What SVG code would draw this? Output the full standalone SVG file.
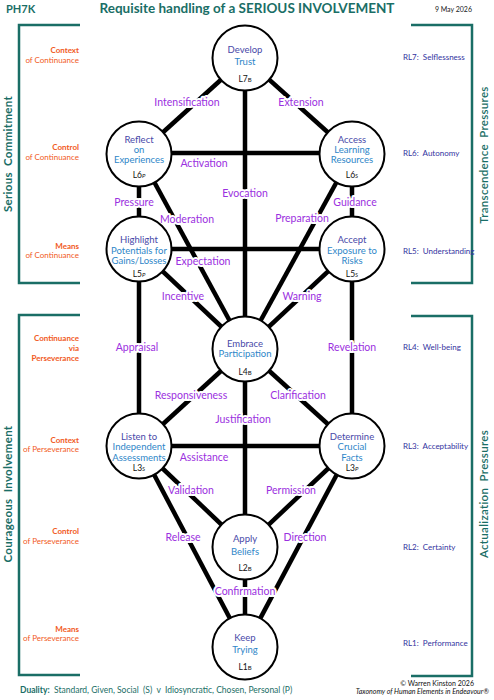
<svg xmlns="http://www.w3.org/2000/svg" width="494" height="700" viewBox="0 0 494 700">
<style>
text{font-family:Lato,"Liberation Sans",sans-serif}
.edge{stroke:#000;stroke-width:4.5;fill:none}
.frame{stroke:#1a6e66;stroke-width:2.5;fill:none}
.circ{fill:#fff;stroke:#000;stroke-width:2}
.lbl{font-size:10.5px;fill:#9b30e0;text-anchor:middle;stroke:#fff;stroke-width:4;stroke-linejoin:round;paint-order:stroke}
.nd{font-size:9.5px;fill:#4848a8;text-anchor:middle}
.nl{font-size:9.5px;fill:#2e86c8;text-anchor:middle}
.lv{font-size:8.5px;fill:#111;text-anchor:middle}
.lv tspan{font-size:6px}
.or{font-size:8px;fill:#f15a24;text-anchor:end}
.orb{font-size:8px;fill:#f15a24;text-anchor:end;font-weight:bold}
.rl{font-size:8px;fill:#3333a0}
.side{font-size:11.5px;fill:#1a6e66;font-weight:bold;text-anchor:middle;letter-spacing:0.3px}
</style>

<g id="header">
<text x="6" y="13" style="font-size:11px;font-weight:bold;fill:#1a6e66">PH7K</text>
<text x="247" y="13" style="font-size:13.5px;font-weight:bold;fill:#1a6e66;text-anchor:middle">Requisite handling of a SERIOUS INVOLVEMENT</text>
<text x="472" y="12" style="font-size:7px;fill:#222;text-anchor:end">9 May 2026</text>
</g>

<g id="frames">
<polyline class="frame" points="80,25 19,25 19,283 80,283"/>
<polyline class="frame" points="80,315 19,315 19,675 80,675"/>
<polyline class="frame" points="411,25 472,25 472,283 411,283"/>
<polyline class="frame" points="411,316 472,316 472,676 411,676"/>
<text class="side" xml:space="preserve" transform="translate(12,154) rotate(-90)">Serious  Commitment</text>
<text class="side" xml:space="preserve" transform="translate(12,494) rotate(-90)">Courageous  Involvement</text>
<text class="side" xml:space="preserve" transform="translate(488,155) rotate(-90)" style="font-weight:600">Transcendence  Pressures</text>
<text class="side" xml:space="preserve" transform="translate(488,494) rotate(-90)" style="font-weight:600">Actualization  Pressures</text>
</g>

<g id="left-labels">
<text class="orb" x="79" y="53">Context</text>
<text class="or" x="79" y="63">of Continuance</text>
<text class="orb" x="79" y="150">Control</text>
<text class="or" x="79" y="160">of Continuance</text>
<text class="orb" x="79" y="249">Means</text>
<text class="or" x="79" y="258">of Continuance</text>
<text class="orb" x="79" y="341">Continuance</text>
<text class="orb" x="79" y="351">via</text>
<text class="orb" x="79" y="361">Perseverance</text>
<text class="orb" x="79" y="443">Context</text>
<text class="or" x="79" y="452">of Perseverance</text>
<text class="orb" x="79" y="534">Control</text>
<text class="or" x="79" y="544">of Perseverance</text>
<text class="orb" x="79" y="632">Means</text>
<text class="or" x="79" y="641">of Perseverance</text>
</g>

<g id="right-labels">
<text class="rl" xml:space="preserve" x="403" y="60">RL7:  Selflessness</text>
<text class="rl" xml:space="preserve" x="403" y="156">RL6:  Autonomy</text>
<text class="rl" xml:space="preserve" x="403" y="254">RL5:  Understanding</text>
<text class="rl" xml:space="preserve" x="403" y="350">RL4:  Well-being</text>
<text class="rl" xml:space="preserve" x="403" y="449">RL3:  Acceptability</text>
<text class="rl" xml:space="preserve" x="403" y="550">RL2:  Certainty</text>
<text class="rl" xml:space="preserve" x="403" y="646">RL1:  Performance</text>
</g>

<g id="connectors">
<line class="edge" x1="245" y1="58" x2="139" y2="154"/>
<line class="edge" x1="245" y1="58" x2="352" y2="154"/>
<line class="edge" x1="245" y1="58" x2="245" y2="349"/>
<line class="edge" x1="139" y1="153" x2="352" y2="153"/>
<line class="edge" x1="139" y1="154" x2="139" y2="446"/>
<line class="edge" x1="352" y1="154" x2="352" y2="446"/>
<line class="edge" x1="139" y1="154" x2="245" y2="349"/>
<line class="edge" x1="352" y1="154" x2="245" y2="349"/>
<line class="edge" x1="139" y1="249" x2="352" y2="249"/>
<line class="edge" x1="139" y1="249" x2="245" y2="349"/>
<line class="edge" x1="352" y1="249" x2="245" y2="349"/>
<line class="edge" x1="245" y1="349" x2="139" y2="446"/>
<line class="edge" x1="245" y1="349" x2="352" y2="446"/>
<line class="edge" x1="245" y1="349" x2="245" y2="647"/>
<line class="edge" x1="139" y1="446" x2="352" y2="446"/>
<line class="edge" x1="139" y1="446" x2="245" y2="547"/>
<line class="edge" x1="352" y1="446" x2="245" y2="547"/>
<line class="edge" x1="139" y1="446" x2="245" y2="647"/>
<line class="edge" x1="352" y1="446" x2="245" y2="647"/>
</g>

<g id="connector-labels">
<text class="lbl" x="187" y="106">Intensification</text>
<text class="lbl" x="301" y="106">Extension</text>
<text class="lbl" x="204" y="167">Activation</text>
<text class="lbl" x="245" y="197">Evocation</text>
<text class="lbl" x="134" y="206">Pressure</text>
<text class="lbl" x="187" y="223">Moderation</text>
<text class="lbl" x="355" y="206">Guidance</text>
<text class="lbl" x="302" y="222">Preparation</text>
<text class="lbl" x="203" y="265">Expectation</text>
<text class="lbl" x="183" y="300">Incentive</text>
<text class="lbl" x="302" y="300">Warning</text>
<text class="lbl" x="137" y="351">Appraisal</text>
<text class="lbl" x="352" y="351">Revelation</text>
<text class="lbl" x="191" y="399">Responsiveness</text>
<text class="lbl" x="298" y="399">Clarification</text>
<text class="lbl" x="243" y="423">Justification</text>
<text class="lbl" x="204" y="461">Assistance</text>
<text class="lbl" x="191" y="494">Validation</text>
<text class="lbl" x="291" y="494">Permission</text>
<text class="lbl" x="183" y="541">Release</text>
<text class="lbl" x="305" y="541">Direction</text>
<text class="lbl" x="245" y="595">Confirmation</text>
</g>

<g id="L7">
<circle class="circ" cx="245" cy="58" r="32.5"/>
<text class="nd" x="245" y="52.5">Develop</text>
<text class="nl" x="245" y="64.5">Trust</text>
<text class="lv" x="245" y="82">L7<tspan>B</tspan></text>
</g>
<g id="L6P">
<circle class="circ" cx="139" cy="154" r="32.5"/>
<text class="nd" x="139" y="142.5">Reflect</text>
<text class="nl" x="139" y="152.5">on</text>
<text class="nl" x="139" y="162.5">Experiences</text>
<text class="lv" x="139" y="178">L6<tspan font-style="italic">P</tspan></text>
</g>
<g id="L6S">
<circle class="circ" cx="352" cy="154" r="32.5"/>
<text class="nd" x="352" y="142.5">Access</text>
<text class="nl" x="352" y="152.5">Learning</text>
<text class="nl" x="352" y="162.5">Resources</text>
<text class="lv" x="352" y="178">L6<tspan font-style="italic">S</tspan></text>
</g>
<g id="L5P">
<circle class="circ" cx="139" cy="249" r="32.5"/>
<text class="nd" x="139" y="242.5">Highlight</text>
<text class="nl" x="139" y="253.5">Potentials for</text>
<text class="nl" x="139" y="263.5">Gains/Losses</text>
<text class="lv" x="139" y="277">L5<tspan font-style="italic">P</tspan></text>
</g>
<g id="L5S">
<circle class="circ" cx="352" cy="249" r="32.5"/>
<text class="nd" x="352" y="242.5">Accept</text>
<text class="nl" x="352" y="253.5">Exposure to</text>
<text class="nl" x="352" y="263.5">Risks</text>
<text class="lv" x="352" y="277">L5<tspan font-style="italic">S</tspan></text>
</g>
<g id="L4">
<circle class="circ" cx="245" cy="349" r="32.5"/>
<text class="nd" x="245" y="346.5">Embrace</text>
<text class="nl" x="245" y="356.5">Participation</text>
<text class="lv" x="245" y="375">L4<tspan>B</tspan></text>
</g>
<g id="L3S">
<circle class="circ" cx="139" cy="446" r="32.5"/>
<text class="nd" x="139" y="439.5">Listen to</text>
<text class="nl" x="139" y="449.5">Independent</text>
<text class="nl" x="139" y="460.5">Assessments</text>
<text class="lv" x="139" y="471">L3<tspan font-style="italic">S</tspan></text>
</g>
<g id="L3P">
<circle class="circ" cx="352" cy="446" r="32.5"/>
<text class="nd" x="352" y="439.5">Determine</text>
<text class="nl" x="352" y="449.5">Crucial</text>
<text class="nl" x="352" y="460.5">Facts</text>
<text class="lv" x="352" y="471">L3<tspan font-style="italic">P</tspan></text>
</g>
<g id="L2">
<circle class="circ" cx="245" cy="547" r="32.5"/>
<text class="nd" x="245" y="541.5">Apply</text>
<text class="nl" x="245" y="554.5">Beliefs</text>
<text class="lv" x="245" y="571">L2<tspan>B</tspan></text>
</g>
<g id="L1">
<circle class="circ" cx="245" cy="647" r="32.5"/>
<text class="nd" x="245" y="640.5">Keep</text>
<text class="nl" x="245" y="652.5">Trying</text>
<text class="lv" x="245" y="670">L1<tspan>B</tspan></text>
</g>

<g id="footer">
<text xml:space="preserve" x="20" y="693" style="font-size:8.5px;fill:#1a6e66"><tspan font-weight="bold">Duality:</tspan>  Standard, Given, Social  (S)  v  Idiosyncratic, Chosen, Personal (P)</text>
<text x="474" y="686" style="font-size:7px;fill:#111;text-anchor:end">© Warren Kinston 2026</text>
<text x="489" y="694" style="font-size:7px;fill:#111;text-anchor:end;font-style:italic">Taxonomy of Human Elements in Endeavour®</text>
</g>
</svg>
